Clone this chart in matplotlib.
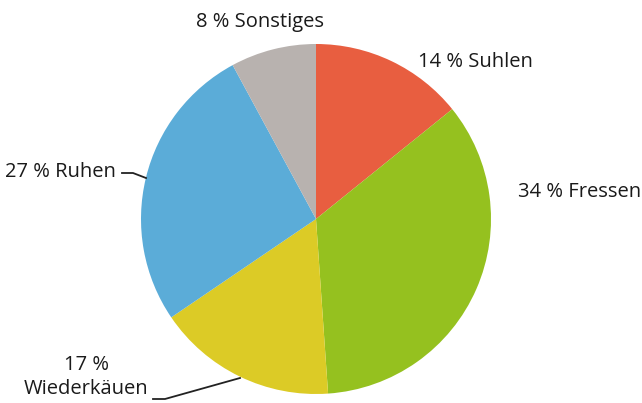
import matplotlib.pyplot as plt

labels = ['14 % Suhlen', '34 % Fressen', '17 %\nWiederkäuen', '27 % Ruhen', '8 % Sonstiges']
values = [14.2, 34.7, 16.6, 26.6, 7.9]
colors = ['#E85E40', '#95C11F', '#DCCB26', '#5BACD8', '#B8B2AF']

plt.rcParams['font.family'] = ['Open Sans', 'DejaVu Sans']

fig = plt.figure(figsize=(6.42, 4.03), dpi=100)
ax = fig.add_axes([0, 0, 1, 1])
H = 403
ax.pie(values, colors=colors, startangle=90, counterclock=False,
       center=(316, H - 219), radius=175, frame=True)
ax.set_xlim(0, 642)
ax.set_ylim(0, H)
ax.set_aspect('equal')
ax.axis('off')

fs = 14.5
tc = '#1a1a1a'
ax.text(196, H - 22, labels[4], fontsize=fs, va='center', ha='left', color=tc)
ax.text(418, H - 62, labels[0], fontsize=fs, va='center', ha='left', color=tc)
ax.text(518, H - 192, labels[1], fontsize=fs, va='center', ha='left', color=tc)
ax.text(5, H - 172, labels[3], fontsize=fs, va='center', ha='left', color=tc)
ax.text(86, H - 377, labels[2], fontsize=fs, va='center', ha='center',
        linespacing=1.3, color=tc)

ax.plot([122, 133, 146], [H - 173, H - 173, H - 178], color='#222222', lw=1.3)
ax.plot([153, 165, 240], [H - 399, H - 399, H - 378], color='#222222', lw=1.3)

fig.savefig('out.png', dpi=100)
